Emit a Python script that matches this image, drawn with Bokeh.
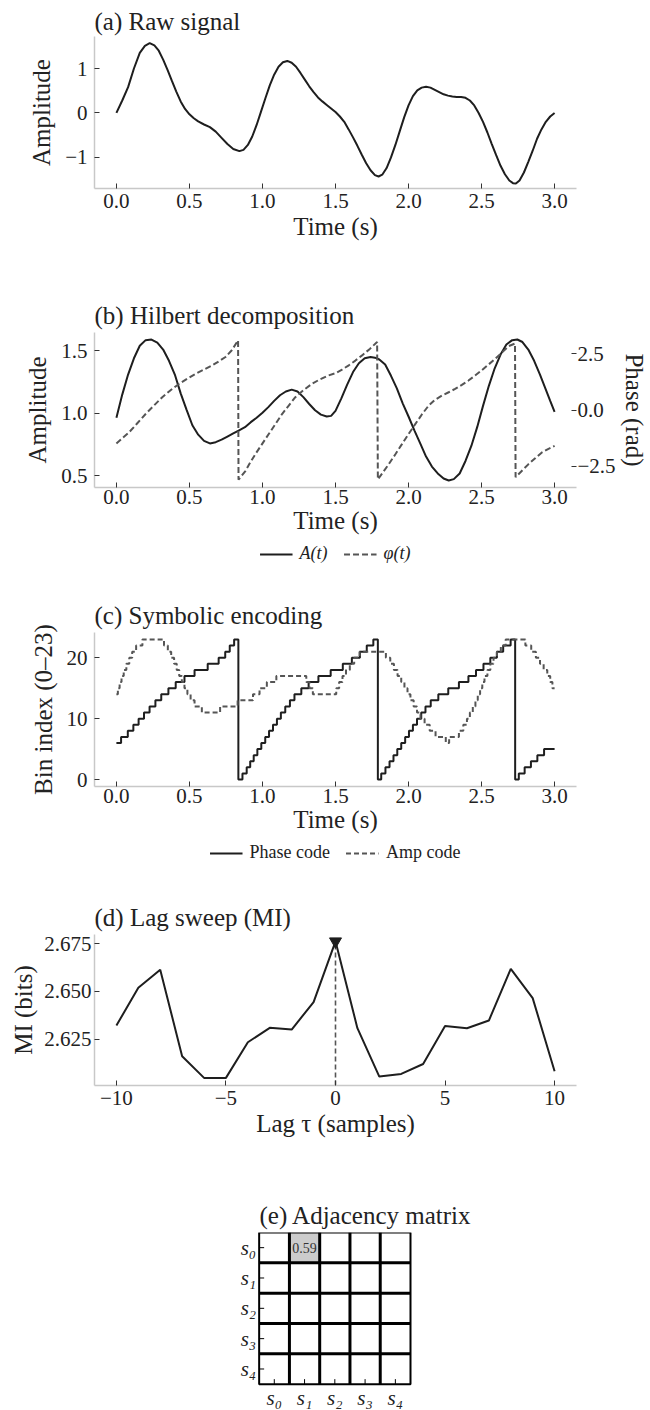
import numpy as np
from bokeh.plotting import figure
from bokeh.models import (Range1d, LinearAxis, FixedTicker, CustomJSTickFormatter,
                          Legend, LegendItem)
from bokeh.layouts import column
from bokeh.embed import file_html
from bokeh.resources import INLINE
from bokeh.core.properties import value

FONT = "Liberation Serif"
INK = "#1e1e1e"
GREY = "#555555"
SPINE = "#c8c8c8"

# ---------------- (a) raw signal ----------------
raw_t = [0.000, 0.040, 0.080, 0.120, 0.160, 0.195, 0.228, 0.260, 0.290, 0.320,
         0.350, 0.380, 0.410, 0.440, 0.470, 0.500, 0.530, 0.560, 0.600, 0.640,
         0.680, 0.720, 0.760, 0.800, 0.842, 0.870, 0.900, 0.930, 0.960, 0.990,
         1.020, 1.050, 1.080, 1.110, 1.140, 1.170, 1.200, 1.230, 1.260, 1.290,
         1.320, 1.350, 1.380, 1.410, 1.440, 1.470, 1.500, 1.530, 1.560, 1.590,
         1.620, 1.650, 1.680, 1.710, 1.740, 1.770, 1.795, 1.820, 1.850, 1.880,
         1.910, 1.940, 1.970, 2.000, 2.030, 2.060, 2.090, 2.120, 2.150, 2.180,
         2.210, 2.240, 2.270, 2.300, 2.330, 2.360, 2.390, 2.420, 2.450, 2.480,
         2.510, 2.540, 2.570, 2.600, 2.630, 2.660, 2.690, 2.715, 2.735, 2.760,
         2.790, 2.820, 2.850, 2.880, 2.910, 2.940, 2.970, 3.000]
raw_x = [0.00, 0.28, 0.58, 1.00, 1.35, 1.51, 1.57, 1.52, 1.40, 1.20,
         0.97, 0.72, 0.48, 0.26, 0.09, -0.03, -0.12, -0.19, -0.26, -0.32,
         -0.42, -0.56, -0.70, -0.81, -0.86, -0.83, -0.72, -0.53, -0.27, 0.03,
         0.33, 0.62, 0.86, 1.04, 1.14, 1.17, 1.13, 1.04, 0.90, 0.75,
         0.60, 0.47, 0.35, 0.26, 0.18, 0.10, 0.02, -0.08, -0.20, -0.37,
         -0.55, -0.74, -0.94, -1.13, -1.29, -1.40, -1.43, -1.39, -1.24, -1.00,
         -0.72, -0.41, -0.10, 0.17, 0.38, 0.51, 0.57, 0.59, 0.57, 0.52,
         0.47, 0.42, 0.39, 0.37, 0.36, 0.36, 0.34, 0.28, 0.17, 0.00,
         -0.20, -0.44, -0.70, -0.95, -1.19, -1.38, -1.52, -1.58, -1.59, -1.52,
         -1.34, -1.10, -0.85, -0.58, -0.37, -0.20, -0.08, 0.00]

# ---------------- (b) Hilbert decomposition ----------------
env_t = [0.000, 0.040, 0.080, 0.120, 0.160, 0.200, 0.240, 0.280, 0.320, 0.360,
         0.400, 0.440, 0.480, 0.520, 0.560, 0.600, 0.640, 0.680, 0.720, 0.760,
         0.800, 0.840, 0.880, 0.920, 0.960, 1.000, 1.040, 1.080, 1.120, 1.160,
         1.200, 1.240, 1.280, 1.320, 1.360, 1.400, 1.440, 1.470, 1.500, 1.540,
         1.580, 1.620, 1.660, 1.700, 1.740, 1.770, 1.800, 1.840, 1.880, 1.920,
         1.960, 2.000, 2.040, 2.080, 2.120, 2.160, 2.200, 2.240, 2.275, 2.310,
         2.350, 2.390, 2.430, 2.470, 2.510, 2.550, 2.590, 2.630, 2.670, 2.710,
         2.745, 2.780, 2.820, 2.860, 2.900, 2.940, 2.970, 3.000]
env_a = [0.965, 1.15, 1.31, 1.44, 1.54, 1.585, 1.59, 1.565, 1.51, 1.42,
         1.31, 1.16, 1.03, 0.905, 0.83, 0.78, 0.76, 0.77, 0.79, 0.815,
         0.84, 0.865, 0.89, 0.93, 0.965, 1.005, 1.05, 1.10, 1.145, 1.175,
         1.19, 1.175, 1.13, 1.075, 1.025, 0.99, 0.975, 0.98, 1.02, 1.12,
         1.23, 1.33, 1.40, 1.44, 1.45, 1.445, 1.43, 1.39, 1.30, 1.20,
         1.08, 0.975, 0.865, 0.76, 0.655, 0.575, 0.52, 0.48, 0.464, 0.475,
         0.52, 0.62, 0.74, 0.89, 1.06, 1.22, 1.36, 1.47, 1.55, 1.585,
         1.59, 1.57, 1.51, 1.42, 1.31, 1.19, 1.10, 1.013]
phase_t = [0.000, 0.043, 0.086, 0.143, 0.200, 0.257, 0.314, 0.371, 0.428, 0.485,
           0.542, 0.599, 0.656, 0.700, 0.747, 0.790, 0.833, 0.836, 0.883, 0.917,
           0.951, 0.997, 1.043, 1.089, 1.134, 1.180, 1.225, 1.280, 1.338, 1.395,
           1.452, 1.500, 1.545, 1.591, 1.636, 1.682, 1.735, 1.785, 1.790, 1.864,
           1.910, 1.955, 2.000, 2.046, 2.090, 2.137, 2.180, 2.228, 2.275, 2.319,
           2.365, 2.410, 2.455, 2.500, 2.547, 2.593, 2.640, 2.684, 2.729, 2.733,
           2.780, 2.820, 2.865, 2.911, 2.955, 3.000]
phase_v = [-1.49, -1.24, -1.00, -0.59, -0.18, 0.20, 0.57, 0.88, 1.16, 1.39,
           1.61, 1.80, 1.99, 2.16, 2.36, 2.66, 3.10, -3.10, -2.72, -2.33,
           -1.97, -1.52, -1.07, -0.62, -0.18, 0.20, 0.57, 0.88, 1.16, 1.37,
           1.54, 1.64, 1.80, 1.99, 2.20, 2.43, 2.72, 3.03, -3.09, -2.42,
           -1.97, -1.52, -1.07, -0.63, -0.21, 0.19, 0.45, 0.64, 0.79, 0.94,
           1.12, 1.31, 1.53, 1.76, 2.02, 2.28, 2.56, 2.84, 2.96, -2.99,
           -2.68, -2.42, -2.16, -1.90, -1.74, -1.60]

# ---------------- (c) symbolic encoding ----------------
phase_code_t = [0.000, 0.032, 0.078, 0.116, 0.152, 0.189, 0.227, 0.267, 0.307, 0.356,
                0.406, 0.466, 0.535, 0.625, 0.700, 0.745, 0.776, 0.806,
                0.835, 0.863, 0.892, 0.916, 0.940, 0.965, 0.992, 1.019, 1.045, 1.072,
                1.099, 1.126, 1.156, 1.188, 1.219, 1.266, 1.316, 1.383, 1.467, 1.550,
                1.612, 1.667, 1.714, 1.759,
                1.790, 1.813, 1.842, 1.870, 1.897, 1.923, 1.950, 1.977, 2.003, 2.030,
                2.058, 2.087, 2.116, 2.152, 2.204, 2.272, 2.345, 2.410, 2.462, 2.513,
                2.560, 2.605, 2.648, 2.699,
                2.730, 2.755, 2.795, 2.838, 2.882, 2.928, 3.000]
phase_code = [6, 7, 8, 9, 10, 11, 12, 13, 14, 15, 16, 17, 18, 19, 20, 21, 22, 23,
              0, 1, 2, 3, 4, 5, 6, 7, 8, 9, 10, 11, 12, 13, 14, 15, 16, 17, 18, 19,
              20, 21, 22, 23,
              0, 1, 2, 3, 4, 5, 6, 7, 8, 9, 10, 11, 12, 13, 14, 15, 16, 17, 18, 19,
              20, 21, 22, 23,
              0, 1, 2, 3, 4, 5, 5]
amp_code_t = [0.000, 0.010, 0.022, 0.035, 0.050, 0.068, 0.088, 0.108, 0.135, 0.178,
              0.326, 0.352, 0.375, 0.395, 0.413, 0.430, 0.448, 0.466, 0.486, 0.508,
              0.535, 0.585, 0.710, 0.830, 0.935, 0.980, 1.030, 1.095, 1.300, 1.322,
              1.345, 1.505, 1.525, 1.548, 1.572, 1.598, 1.628, 1.665, 1.845, 1.875,
              1.900, 1.925, 1.950, 1.972, 1.993, 2.013, 2.035, 2.058, 2.082, 2.110,
              2.145, 2.185, 2.255, 2.278, 2.345, 2.375, 2.400, 2.420, 2.440, 2.458,
              2.474, 2.490, 2.505, 2.520, 2.540, 2.560, 2.582, 2.605, 2.632, 2.665,
              2.800, 2.840, 2.872, 2.900, 2.925, 2.950, 2.970, 2.985, 3.000]
amp_code = [14, 15, 16, 17, 18, 19, 20, 21, 22, 23,
            22, 21, 20, 19, 18, 17, 16, 15, 14, 13,
            12, 11, 12, 13, 14, 15, 16, 17, 16, 15,
            14, 15, 16, 17, 18, 19, 20, 21, 20, 19,
            18, 17, 16, 15, 14, 13, 12, 11, 10, 9,
            8, 7, 6, 7, 8, 9, 10, 11, 12, 13,
            14, 15, 16, 17, 18, 19, 20, 21, 22, 23,
            22, 21, 20, 19, 18, 17, 16, 15, 15]

# ---------------- (d) lag sweep ----------------
lags = [-10, -9, -8, -7, -6, -5, -4, -3, -2, -1, 0, 1, 2, 3, 4, 5, 6, 7, 8, 9, 10]
mi_bits = [2.6321, 2.6519, 2.6614, 2.6160, 2.6046, 2.6046, 2.6233, 2.6309, 2.6300,
           2.6444, 2.6763, 2.6307, 2.6053, 2.6067, 2.6119, 2.6318, 2.6307, 2.6347,
           2.6618, 2.6465, 2.6081]

# ---------------- (e) adjacency ----------------
state_labels = ["s\u2080", "s\u2081", "s\u2082", "s\u2083", "s\u2084"]
adjacency = [[0.00, 0.59, 0.00, 0.00, 0.00],
             [0.00, 0.00, 0.00, 0.00, 0.00],
             [0.00, 0.00, 0.00, 0.00, 0.00],
             [0.00, 0.00, 0.00, 0.00, 0.00],
             [0.00, 0.00, 0.00, 0.00, 0.00]]

time_ticks = [0.0, 0.5, 1.0, 1.5, 2.0, 2.5, 3.0]

W = 650
BL, BR = 94, 73           # common left / right borders (frame x 94..577)
TICK_PX = "21px"
LABEL_PX = "25px"


def fmt(nd):
    return CustomJSTickFormatter(
        code="return tick.toFixed(%d).replace('-', '\u2212');" % nd)


def style_axis(ax, ticks, nd, label=None, line=True, lab_so=7, axl_so=7):
    ax.ticker = FixedTicker(ticks=ticks)
    ax.formatter = fmt(nd)
    ax.axis_line_color = SPINE if line else None
    ax.axis_line_width = 1.5
    ax.major_tick_in = 5
    ax.major_tick_out = 0
    ax.major_tick_line_color = "#333333"
    ax.major_tick_line_width = 1
    ax.minor_tick_line_color = None
    ax.major_label_text_font = FONT
    ax.major_label_text_font_size = TICK_PX
    ax.major_label_text_color = "#222222"
    ax.major_label_standoff = lab_so
    if label is not None:
        ax.axis_label = label
    ax.axis_label_text_font = FONT
    ax.axis_label_text_font_size = LABEL_PX
    ax.axis_label_text_font_style = "normal"
    ax.axis_label_text_color = "#222222"
    ax.axis_label_standoff = axl_so


def style_title(p, title, offset=0, standoff=8):
    p.title.text = title
    p.title.text_font = FONT
    p.title.text_font_size = "25px"
    p.title.text_font_style = "normal"
    p.title.text_color = "#222222"
    p.title.align = "left"
    p.title.standoff = standoff
    p.title.offset = offset


def make_fig(height, bottom, xr, yr, title, top=40, standoff=8):
    p = figure(width=W, height=height, x_range=xr, y_range=yr,
               output_backend="svg", toolbar_location=None,
               min_border_left=BL, min_border_right=BR,
               min_border_top=top, min_border_bottom=bottom)
    style_title(p, title, standoff=standoff)
    p.grid.visible = False
    p.outline_line_color = None
    p.background_fill_color = "white"
    p.border_fill_color = "white"
    return p


def legend_fig(height, spec, italic=False):
    p = figure(width=W, height=height, x_range=Range1d(0, 1), y_range=Range1d(0, 1),
               x_axis_type=None, y_axis_type=None,
               output_backend="svg", toolbar_location=None,
               min_border_left=BL, min_border_right=BR,
               min_border_top=0, min_border_bottom=0)
    p.outline_line_color = None
    p.grid.visible = False
    items = []
    for lab, col, dash in spec:
        # key-only renderer: its points sit outside the visible range
        r = p.line(x=[-5, -4], y=[-5, -5], line_color=col, line_width=2, line_dash=dash)
        items.append(LegendItem(label=lab, renderers=[r]))
    leg = Legend(items=items, orientation="horizontal", location="top_center",
                 label_text_font=FONT, label_text_font_size="18px",
                 label_text_font_style="italic" if italic else "normal",
                 label_text_color="#222222",
                 border_line_color=None, background_fill_alpha=0,
                 glyph_width=33, glyph_height=16, spacing=16, padding=0,
                 margin=0, label_standoff=7)
    p.add_layout(leg)
    return p


# ---- panel a  (page y 0..292, frame 36..188)
pa = make_fig(292, 104, Range1d(-0.15, 3.15), Range1d(-1.70, 1.72), "(a) Raw signal",
              top=36, standoff=4)
pa.line(raw_t, raw_x, line_color=INK, line_width=2)
style_axis(pa.xaxis[0], time_ticks, 1, "Time (s)", lab_so=5, axl_so=2)
style_axis(pa.yaxis[0], [-1, 0, 1], 0, "Amplitude")

# ---- panel b  (page y 292..543, frame 332..487)
pb = make_fig(251, 56, Range1d(-0.15, 3.15), Range1d(0.408, 1.646),
              "(b) Hilbert decomposition")
pb.extra_y_ranges = {"phase": Range1d(-3.45, 3.45)}
pb.line(env_t, env_a, line_color=INK, line_width=2)
pb.line(phase_t, phase_v, line_color=GREY, line_width=2, line_dash="6 3",
        y_range_name="phase")
style_axis(pb.xaxis[0], time_ticks, 1, "Time (s)", lab_so=2, axl_so=0)
style_axis(pb.yaxis[0], [0.5, 1.0, 1.5], 1, "Amplitude")
rax = LinearAxis(y_range_name="phase")
style_axis(rax, [-2.5, 0.0, 2.5], 1, "Phase (rad)", line=False, lab_so=1, axl_so=2)
pb.add_layout(rax, "right")
lb = legend_fig(49, [("A(t)", INK, "solid"), ("\u03c6(t)", GREY, "6 3")], italic=True)

# ---- panel c  (page y 592..842, frame 632..786)
pc = make_fig(250, 56, Range1d(-0.15, 3.15), Range1d(-1.15, 24.15), "(c) Symbolic encoding")
pc.step(phase_code_t, phase_code, mode="after", line_color=INK, line_width=2)
pc.step(amp_code_t, amp_code, mode="after", line_color=GREY, line_width=2,
        line_dash="5 3")
style_axis(pc.xaxis[0], time_ticks, 1, "Time (s)", lab_so=2, axl_so=0)
style_axis(pc.yaxis[0], [0, 10, 20], 0, "Bin index (0\u201323)")
lc = legend_fig(52, [("Phase code", INK, "solid"), ("Amp code", GREY, "5 3")])

# ---- panel d  (page y 894..1192, frame 934..1085)
d_lo = 2.6006
pd_ = make_fig(298, 107, Range1d(-11.0, 11.0), Range1d(d_lo, 2.6799), "(d) Lag sweep (MI)")
pd_.line(lags, mi_bits, line_color=INK, line_width=2)
best = int(np.argmax(mi_bits))
pd_.segment(x0=[lags[best]], y0=[d_lo], x1=[lags[best]], y1=[mi_bits[best]],
            line_color=GREY, line_width=1.6, line_dash="5 3")
pd_.scatter([lags[best]], [mi_bits[best]], marker="inverted_triangle", size=12,
            fill_color=INK, line_color=INK)
style_axis(pd_.xaxis[0], [-10, -5, 0, 5, 10], 0, "Lag \u03c4 (samples)", lab_so=5, axl_so=2)
style_axis(pd_.yaxis[0], [2.625, 2.650, 2.675], 3, "MI (bits)", lab_so=3, axl_so=4)

# ---- panel e  (page y 1192..1410; matrix drawn inside a wide frame, cell = 30.33 px)
adj = np.array(adjacency)
n = adj.shape[0]
cell = 30.33
E_H, E_TOP = 218, 40
frame_w, frame_h = W - BL - BR, E_H - E_TOP
mat_left_px = 165.0                      # matrix left edge measured from frame left
x0 = -0.5 - mat_left_px / cell
pe = figure(width=W, height=E_H,
            x_range=Range1d(x0, x0 + frame_w / cell),
            y_range=Range1d(-0.5 + frame_h / cell, -0.5),
            x_axis_type=None, y_axis_type=None,
            output_backend="svg", toolbar_location=None,
            min_border_left=BL, min_border_right=BR, min_border_top=E_TOP,
            min_border_bottom=0)
style_title(pe, "(e) Adjacency matrix", offset=mat_left_px)
pe.outline_line_color = None
pe.grid.visible = False

rows, cols = np.indices(adj.shape)
vals = adj.ravel()
fills = ["#cccccc" if v > 0 else "white" for v in vals]
pe.rect(x=cols.ravel(), y=rows.ravel(), width=1, height=1, fill_color=fills,
        line_color=None)
inner = np.arange(1, n) - 0.5
pe.segment(x0=inner, y0=[-0.5] * (n - 1), x1=inner, y1=[n - 0.5] * (n - 1),
           line_color="black", line_width=3)
pe.segment(x0=[-0.5] * (n - 1), y0=inner, x1=[n - 0.5] * (n - 1), y1=inner,
           line_color="black", line_width=3)
pe.rect(x=[(n - 1) / 2], y=[(n - 1) / 2], width=n, height=n, fill_color=None,
        line_color="black", line_width=2)
tick = 5 / cell
idx = np.arange(n)
pe.segment(x0=idx, y0=[n - 0.5] * n, x1=idx, y1=[n - 0.5 - tick] * n,
           line_color="black", line_width=1)
pe.segment(x0=[-0.5] * n, y0=idx, x1=[-0.5 + tick] * n, y1=idx,
           line_color="black", line_width=1)
nz = vals > 0
pe.text(x=cols.ravel()[nz], y=rows.ravel()[nz], text=["%.2f" % v for v in vals[nz]],
        text_align="center", text_baseline="middle", text_font=value(FONT),
        text_font_size="14px", text_color="#333333")
pe.text(x=idx, y=[n - 0.5 + 14.0 / cell] * n, text=state_labels,
        text_align="center", text_baseline="middle", text_font=value(FONT),
        text_font_size="21px", text_font_style="italic", text_color="#222222")
pe.text(x=[-0.5 - 3 / cell] * n, y=idx, text=state_labels,
        text_align="right", text_baseline="middle", text_font=value(FONT),
        text_font_size="21px", text_font_style="italic", text_color="#222222")

layout = column(pa, pb, lb, pc, lc, pd_, pe, spacing=0)
with open("out.html", "w", encoding="utf-8") as f:
    f.write(file_html(layout, INLINE))
